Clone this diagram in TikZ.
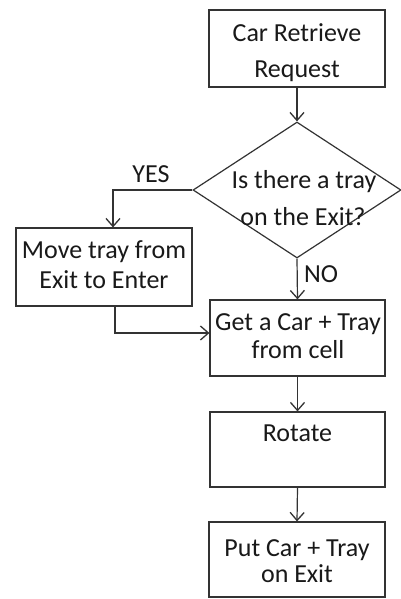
\documentclass[tikz,border=0pt]{standalone}
\usepackage{fontspec}
\setmainfont{Carlito}
\usetikzlibrary{arrows.meta,shapes.geometric}
\begin{document}
\begin{tikzpicture}[x=1pt,y=-1pt,
  txt/.style={font=\fontsize{26}{30}\selectfont, text=black!90, inner sep=0pt, anchor=base},
  boxst/.style={draw=black!80, line width=1.2pt, inner sep=0pt, minimum width=176pt},
  conn/.style={draw=black!80, line width=1.2pt, -{Straight Barb[length=8pt,width=14pt,line width=1.3pt]}},
]
\useasboundingbox (0,0) rectangle (401,599);
\fill[white] (0,0) rectangle (401,599);

% boxes
\node[boxst, minimum height=77pt] (req) at (297,48.5) {};
\node[draw=black!80, line width=1.2pt, shape=diamond, minimum width=208pt, minimum height=136pt, inner sep=0pt] (dec) at (297,190) {};
\node[boxst, minimum height=78pt] (move) at (104,267) {};
\node[boxst, minimum width=175pt, minimum height=76pt] (get) at (297.5,338) {};
\node[boxst, minimum width=175pt, minimum height=75pt] (rot) at (297.5,449.5) {};
\node[boxst, minimum height=75pt] (put) at (297,559.5) {};

% texts (one node per printed line, placed on its baseline)
\node[txt] (req1) at (297,41.5) {Car Retrieve};
\node[txt] (req2) at (297,78) {Request};
\node[txt] (dec1) at (304,188) {Is there a tray};
\node[txt] (dec2) at (303,225.5) {on the Exit?};
\node[txt] (move1) at (104,258) {Move tray from};
\node[txt] (move2) at (104,288) {Exit to Enter};
\node[txt] (get1) at (298,330) {Get a Car + Tray};
\node[txt] (get2) at (298,358) {from cell};
\node[txt] (rot1) at (297.5,441) {Rotate};
\node[txt] (put1) at (297,556) {Put Car + Tray};
\node[txt] (put2) at (297,582) {on Exit};
\node[txt] (yes) at (151,182) {YES};
\node[txt] (no) at (321,282) {NO};

% connectors
\draw[conn] (req.south) -- (dec.north);
\draw[conn] (dec.west) -| ([xshift=9pt]move.north);
\draw[conn] (dec.south) -- (get.north);
\draw[conn] ([xshift=11pt]move.south) |- ([yshift=5pt]get.west);
\draw[conn] (get.south) -- (rot.north);
\draw[conn] (rot.south) -- (put.north);
\end{tikzpicture}
\end{document}
